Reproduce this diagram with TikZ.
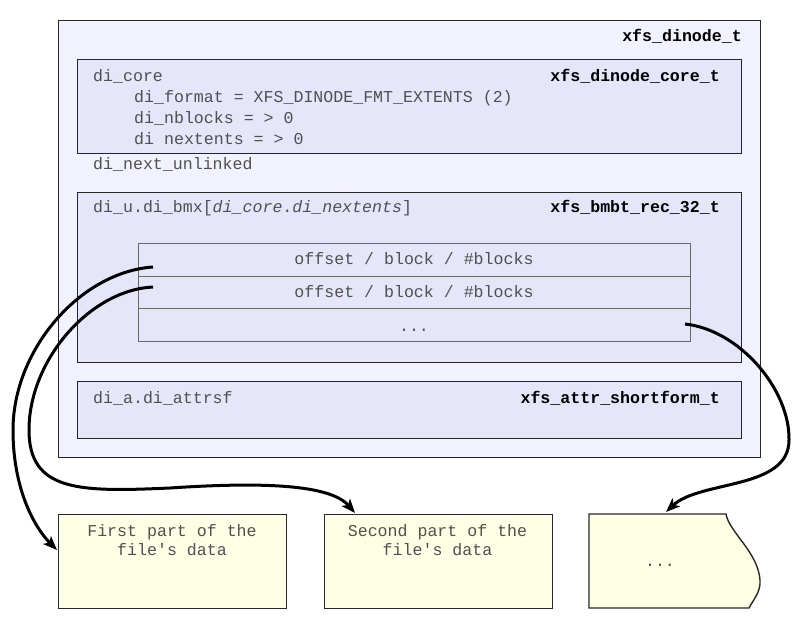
\documentclass[tikz,border=0pt]{standalone}
\usepackage{fontspec}
\setmonofont{Liberation Mono}
\usetikzlibrary{arrows.meta,calc}
\definecolor{outerfill}{RGB}{242,242,254}
\definecolor{innerfill}{RGB}{230,230,250}
\definecolor{datafill}{RGB}{255,255,230}
\definecolor{txt}{RGB}{80,80,80}
\definecolor{edgec}{RGB}{40,40,40}
\definecolor{rowedge}{RGB}{105,105,105}
\begin{document}
\begin{tikzpicture}[x=1pt,y=-1pt,
  outerbox/.style={draw=edgec, line width=1.4pt, fill=outerfill, anchor=north west, inner sep=0pt},
  innerbox/.style={draw=black!85, line width=1.4pt, fill=innerfill, anchor=north west, inner sep=0pt},
  rowbox/.style={draw=rowedge, line width=1pt, fill=innerfill, anchor=north west, inner sep=0pt, minimum width=552pt, minimum height=32.7pt},
  databox/.style={draw=edgec, line width=1.4pt, fill=datafill, anchor=north west, inner sep=0pt, minimum width=228pt, minimum height=94pt},
  lbl/.style={font=\ttfamily\fontsize{16.6}{19}\selectfont, text=txt, inner sep=0pt, anchor=base west},
  typ/.style={font=\ttfamily\bfseries\fontsize{16.6}{19}\selectfont, text=black, inner sep=0pt, anchor=base east},
  ctr/.style={font=\ttfamily\fontsize{16.6}{18.5}\selectfont, text=txt, inner sep=0pt, anchor=base, align=center},
  link/.style={line width=3pt, black, -{Stealth[length=14pt,width=11pt,inset=3.5pt]}}
]
\useasboundingbox (0,0) rectangle (805,623);

% outer inode
\node[outerbox, minimum width=702pt, minimum height=437pt] (outer) at (58,20) {};
\node[typ] (tdinode) at (742,42) {xfs\_dinode\_t};

% di_core
\node[innerbox, minimum width=664pt, minimum height=94pt] (core) at (77,59) {};
\node[lbl] (lcore) at (93,81.5) {di\_core};
\node[typ] (tcore) at (720,81.5) {xfs\_dinode\_core\_t};
\node[lbl] (lfmt) at (134,102.5) {di\_format = XFS\_DINODE\_FMT\_EXTENTS (2)};
\node[lbl] (lnbl) at (134,123.5) {di\_nblocks = > 0};
\node[lbl] (lnext) at (134,144.5) {di nextents = > 0};
\node[lbl] (lunl) at (93,169.5) {di\_next\_unlinked};

% di_u
\node[innerbox, minimum width=664pt, minimum height=170pt] (dib) at (77,192) {};
\node[lbl] (lbmx) at (93,212) {di\_u.di\_bmx[\textit{di\_core}.\textit{di\_nextents}]};
\node[typ] (tbmx) at (720,212) {xfs\_bmbt\_rec\_32\_t};
\node[rowbox] (r1) at (138,243) {};
\node[rowbox] (r2) at (138,275.7) {};
\node[rowbox] (r3) at (138,308.4) {};
\node[ctr] (tr1) at (414,264.5) {offset / block / \#blocks};
\node[ctr] (tr2) at (414,297.5) {offset / block / \#blocks};
\node[ctr] (tr3) at (414,331) {...};

% di_a
\node[innerbox, minimum width=664pt, minimum height=57pt] (dia) at (77,381) {};
\node[lbl] (lattr) at (93,403) {di\_a.di\_attrsf};
\node[typ] (tattr) at (720,403) {xfs\_attr\_shortform\_t};

% data blocks
\node[databox] (b1) at (58,514) {};
\node[databox] (b2) at (323.5,514) {};
\node[ctr] (tb1) at (172,555) {First part of the\\file's data};
\node[ctr] (tb2) at (437.5,555) {Second part of the\\file's data};
\filldraw[draw=edgec, line width=1.4pt, fill=datafill]
  (589,514) -- (726,514)
  .. controls (729,532) and (758,552) .. (760,580)
  .. controls (761,592) and (753,600) .. (749,608)
  -- (589,608) -- cycle;
\node[ctr] (tb3) at (660,566) {...};

% connectors
\coordinate (s1) at (153,267);
\coordinate (s2) at (153,287);
\coordinate (s3) at (685,324);
\coordinate (m1) at (13,430);
\coordinate (m2) at (29,430);
\coordinate (m2b) at (170,488);
\coordinate (m3) at (789,440);
\coordinate (e1) at ($(b1.north west)+(-1,36)$);
\coordinate (e2) at (355,513);
\coordinate (e3) at (666,512);
\draw[link] (s1) .. controls (80,272) and (13,350) .. (m1)
  .. controls (13,490) and (35,528) .. (e1);
\draw[link] (s2) .. controls (90,290) and (29,360) .. (m2)
  .. controls (29,492) and (80,492) .. (m2b)
  .. controls (260,482) and (330,484) .. (e2);
\draw[link] (s3) .. controls (740,330) and (790,390) .. (m3)
  .. controls (789,490) and (700,480) .. (e3);
\end{tikzpicture}
\end{document}
